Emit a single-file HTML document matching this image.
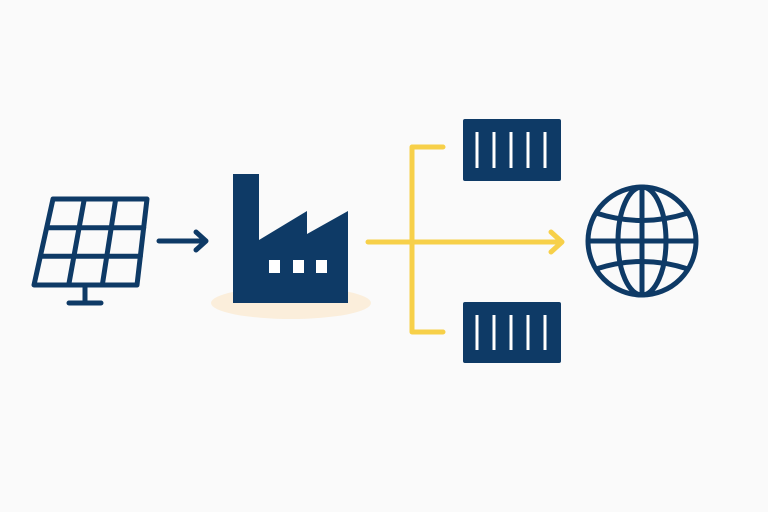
<!DOCTYPE html>
<html><head><style>html,body{margin:0;padding:0;background:#fafafa;}svg{display:block}</style></head>
<body>
<svg width="768" height="512" viewBox="0 0 768 512" xmlns="http://www.w3.org/2000/svg">
<rect width="768" height="512" fill="#fafafa"/>
<g stroke="#0e3a66" stroke-width="5" fill="none" stroke-linejoin="round" stroke-linecap="round">
  <polygon points="53,199 147,199 137,285 34,285"/>
  <line x1="84.3" y1="199" x2="68.7" y2="285"/>
  <line x1="115.7" y1="199" x2="102.3" y2="285"/>
  <line x1="47.5" y1="227.7" x2="143.7" y2="227.7"/>
  <line x1="42.3" y1="256.3" x2="140.3" y2="256.3"/>
  <line x1="85" y1="285" x2="85" y2="302"/>
  <line x1="69" y1="303" x2="101" y2="303"/>
  <line x1="159" y1="241" x2="205" y2="241"/>
  <polyline points="196,232 206,241 196,250"/>
</g>
<ellipse cx="291" cy="303" rx="80" ry="16" fill="#fbeedb"/>
<polygon points="233,174 259,174 259,240 307,211 307,234 348,211 348,303 233,303" fill="#0e3a66"/>
<rect x="269" y="260" width="11" height="13" fill="#fff"/>
<rect x="293" y="260" width="11" height="13" fill="#fff"/>
<rect x="316" y="260" width="11" height="13" fill="#fff"/>
<g stroke="#f7d049" stroke-width="5" fill="none" stroke-linecap="round" stroke-linejoin="round">
  <line x1="368" y1="242" x2="561" y2="242"/>
  <polyline points="551,232 562,242 551,252"/>
  <polyline points="443,147 412,147 412,332 443,332"/>
</g>
<rect x="463" y="119" width="98" height="62" rx="2" fill="#0e3a66"/>
<rect x="463" y="302" width="98" height="61" rx="2" fill="#0e3a66"/>
<g stroke="#fff" stroke-width="3">
  <line x1="477" y1="132" x2="477" y2="168"/><line x1="494" y1="132" x2="494" y2="168"/><line x1="511" y1="132" x2="511" y2="168"/><line x1="528" y1="132" x2="528" y2="168"/><line x1="545" y1="132" x2="545" y2="168"/>
  <line x1="477" y1="315" x2="477" y2="350"/><line x1="494" y1="315" x2="494" y2="350"/><line x1="511" y1="315" x2="511" y2="350"/><line x1="528" y1="315" x2="528" y2="350"/><line x1="545" y1="315" x2="545" y2="350"/>
</g>
<g stroke="#0e3a66" stroke-width="5" fill="none">
  <circle cx="642" cy="241" r="54"/>
  <ellipse cx="642" cy="241" rx="24" ry="54"/>
  <line x1="642" y1="187" x2="642" y2="295"/>
  <line x1="588" y1="241" x2="696" y2="241"/>
  <path d="M596,213 Q642,228 688,213"/>
  <path d="M596,269 Q642,254 688,269"/>
</g>
</svg>
</body></html>
